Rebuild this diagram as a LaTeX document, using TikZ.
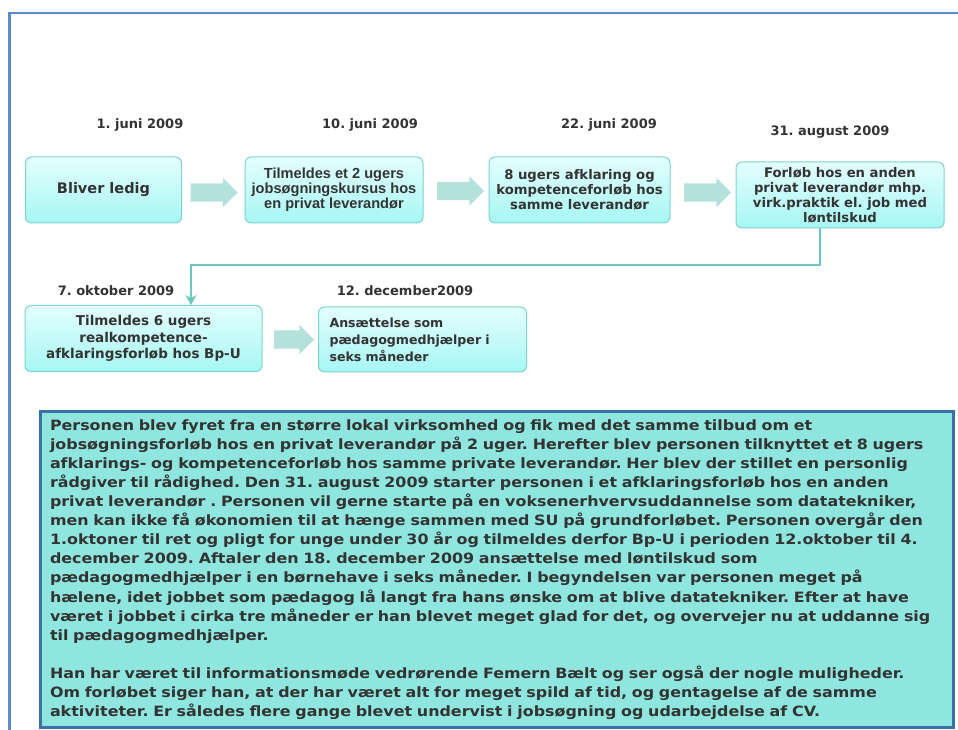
\documentclass[tikz,border=0pt]{standalone}
\usepackage{fontspec}
\setmainfont{DejaVu Sans}
\newfontfamily\arialfont{Liberation Sans}
\newfontfamily\notefont[FakeStretch=1.12]{DejaVu Sans}
\usepackage{xcolor}
\usepackage{tikz}
\usetikzlibrary{positioning,arrows.meta,shapes.arrows}
\frenchspacing

\definecolor{boxtop}{HTML}{E4FEFE}
\definecolor{boxbot}{HTML}{A6F7F3}
\definecolor{boxline}{HTML}{7DD3CD}
\definecolor{blockarrow}{HTML}{B4E1DC}
\definecolor{linkline}{HTML}{6BC9C0}
\definecolor{notefill}{HTML}{8EE6DF}
\definecolor{noteline}{HTML}{3E6FAD}
\definecolor{frameline}{HTML}{5B8AC8}
\definecolor{textgray}{HTML}{333333}

\begin{document}
\begin{tikzpicture}[x=1pt, y=1pt, >=Stealth,
  stepbox/.style={draw=boxline, line width=1pt, rounded corners=6pt,
    top color=boxtop, bottom color=boxbot, text=textgray, align=center,
    font=\bfseries\fontsize{13.2}{15}\selectfont, inner sep=2pt},
  datelabel/.style={text=textgray, font=\bfseries\fontsize{13}{15}\selectfont},
  blockarr/.style={single arrow, fill=blockarrow, draw=none, inner xsep=0pt, inner ysep=9pt,
    minimum height=47pt, single arrow head extend=5.5pt},
  notebox/.style={draw=noteline, line width=3pt, fill=notefill, text=textgray,
    font=\notefont\bfseries\fontsize{14.2}{19.1}\selectfont, align=left}]
\useasboundingbox (0,0) rectangle (958,729);

% frame
\draw[frameline, line width=2.5pt] (9.5,-20) |- (980,716);

% dates
\node[datelabel] (d1) at (140,604) {1. juni 2009};
\node[datelabel] (d2) at (370,604) {10. juni 2009};
\node[datelabel] (d3) at (609,604) {22. juni 2009};
\node[datelabel] (d4) at (830,597) {31. august 2009};
\node[datelabel] (d5) at (116,438) {7. oktober 2009};
\node[datelabel] (d6) at (405,438) {12. december2009};

% first row
\node[stepbox, minimum width=156pt, minimum height=66pt,
  font=\bfseries\fontsize{14.5}{15}\selectfont] (s1) at (103.5,539) {Bliver ledig};
\node[stepbox, minimum width=178pt, minimum height=66pt,
  font=\arialfont\bfseries\fontsize{14.6}{15}\selectfont] (s2) at (334,539)
  {Tilmeldes et 2 ugers\\jobsøgningskursus hos\\en privat leverandør};
\node[stepbox, minimum width=181pt, minimum height=66pt] (s3) at (579.5,539)
  {8 ugers afklaring og\\kompetenceforløb hos\\samme leverandør};
\node[stepbox, minimum width=208pt, minimum height=66pt] (s4) at (840,534)
  {Forløb hos en anden\\privat leverandør mhp.\\virk.praktik el. job med\\løntilskud};

% second row
\node[stepbox, minimum width=237pt, minimum height=66pt,
  font=\bfseries\fontsize{13.5}{16.5}\selectfont] (s5) at (143.5,390.5)
  {Tilmeldes 6 ugers\\realkompetence-\\afklaringsforløb hos Bp-U};
\node[stepbox, minimum height=65pt, text width=186pt, inner xsep=11pt, align=left,
  font=\bfseries\fontsize{12.6}{17}\selectfont] (s6) at (422.5,389.5)
  {Ansættelse som\\pædagogmedhjælper i\\seks måneder};

% block arrows
\node[blockarr] (a1) at (209.5,536.5) {};
\node[blockarr] (a2) at (456,538) {};
\node[blockarr] (a3) at (703,536.5) {};
\node[blockarr, minimum height=40pt] (a4) at (289.5,389.5) {};

% link to second row
\coordinate (turn) at (191,464);
\draw[linkline, line width=1.8pt, -{Stealth[length=10pt,width=11pt]}]
  ([xshift=-20pt]s4.south) |- (turn) -- (s5.north -| turn);

% text box
\node[notebox, minimum width=913pt, minimum height=315pt, text width=893pt, inner xsep=10pt] (note) at (496.5,159.5)
  {Personen blev fyret fra en større lokal virksomhed og fik med det samme tilbud om et\\
   jobsøgningsforløb hos en privat leverandør på 2 uger. Herefter blev personen tilknyttet et 8 ugers\\
   afklarings- og kompetenceforløb hos samme private leverandør. Her blev der stillet en personlig\\
   rådgiver til rådighed. Den 31. august 2009 starter personen i et afklaringsforløb hos en anden\\
   privat leverandør . Personen vil gerne starte på en voksenerhvervsuddannelse som datatekniker,\\
   men kan ikke få økonomien til at hænge sammen med SU på grundforløbet. Personen overgår den\\
   1.oktoner til ret og pligt for unge under 30 år og tilmeldes derfor Bp-U i perioden 12.oktober til 4.\\
   december 2009. Aftaler den 18. december 2009 ansættelse med løntilskud som\\
   pædagogmedhjælper i en børnehave i seks måneder. I begyndelsen var personen meget på\\
   hælene, idet jobbet som pædagog lå langt fra hans ønske om at blive datatekniker. Efter at have\\
   været i jobbet i cirka tre måneder er han blevet meget glad for det, og overvejer nu at uddanne sig\\
   til pædagogmedhjælper.\\[19.1pt]
   Han har været til informationsmøde vedrørende Femern Bælt og ser også der nogle muligheder.\\
   Om forløbet siger han, at der har været alt for meget spild af tid, og gentagelse af de samme\\
   aktiviteter. Er således flere gange blevet undervist i jobsøgning og udarbejdelse af CV.};
\end{tikzpicture}
\end{document}
